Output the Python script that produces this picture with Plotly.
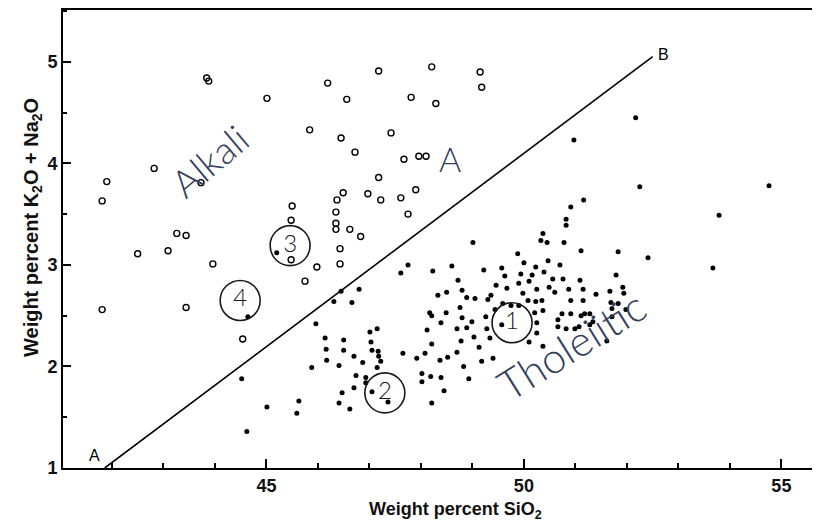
import plotly.graph_objects as go

# Alkali basalts (open circles): SiO2, K2O+Na2O
alkali_sio2 = [43.84, 43.88, 45.01, 42.82, 41.90, 41.81, 43.73, 43.26, 43.44, 43.09, 42.50,
               46.19, 47.18, 48.21, 49.15, 49.18, 46.56, 47.81, 48.29, 45.84, 46.45, 47.42,
               46.72, 47.67, 47.96, 48.10, 47.18, 46.49, 46.37, 46.97, 47.22, 47.61, 47.90,
               47.75, 45.50, 45.48, 46.35, 46.35, 46.35, 46.62, 46.83, 46.43, 45.98, 46.43,
               45.75, 45.48, 41.81, 43.44, 43.96, 44.54]
alkali_total = [4.84, 4.81, 4.64, 3.95, 3.82, 3.63, 3.81, 3.31, 3.29, 3.14, 3.11,
                4.79, 4.91, 4.95, 4.90, 4.75, 4.63, 4.65, 4.59, 4.33, 4.25, 4.30,
                4.11, 4.04, 4.07, 4.07, 3.86, 3.71, 3.64, 3.70, 3.64, 3.66, 3.74,
                3.50, 3.58, 3.44, 3.52, 3.41, 3.35, 3.35, 3.28, 3.16, 2.98, 3.01,
                2.84, 3.05, 2.56, 2.58, 3.01, 2.27]

# Tholeiitic basalts (filled dots)
thol_sio2 = [52.17, 50.97, 52.25, 54.76, 53.79, 51.16, 50.91, 50.82, 50.82, 50.37, 50.33, 50.45,
             50.78, 51.11, 51.83, 52.41, 53.67, 49.01, 49.88, 50.00, 50.47, 50.70, 50.39, 51.79,
             50.56, 50.76, 51.09, 50.49, 50.60, 50.87, 51.15, 51.40, 51.67, 51.92, 51.94, 50.35,
             50.91, 51.15, 51.69, 51.83, 51.71, 51.98, 50.37, 50.74, 50.91, 51.11, 51.18, 51.28,
             51.71, 50.66, 50.66, 50.82, 50.99, 51.07, 51.28, 51.34, 51.61, 50.37, 50.25, 50.10,
             50.25, 48.23, 48.60, 49.22, 49.57, 50.23, 49.63, 49.94, 50.16, 48.72, 49.90, 50.10,
             49.46, 49.67, 48.80, 48.50, 48.33, 50.25, 49.98, 48.89, 49.05, 49.36, 49.30, 50.08,
             50.23, 49.59, 49.75, 49.90, 48.76, 48.17, 48.21, 48.49, 49.44, 50.21, 48.80, 48.99,
             49.26, 49.57, 48.39, 48.12, 48.70, 48.89, 49.28, 48.78, 49.03, 49.34, 48.21, 49.13,
             48.70, 48.52, 48.37, 48.08, 49.18, 49.40, 48.83, 48.02, 48.02, 48.19, 48.39, 48.93,
             48.45, 48.21, 47.75, 47.61, 46.45, 46.80, 46.31, 46.66, 45.96, 47.01, 47.15, 46.14,
             46.50, 47.03, 46.16, 46.50, 47.05, 47.17, 47.18, 47.22, 46.70, 46.87, 46.17, 45.88,
             46.41, 47.15, 47.65, 47.92, 46.74, 46.93, 46.93, 46.70, 46.47, 47.05, 46.41, 46.62,
             45.63, 45.59, 47.36, 45.01, 44.52, 44.62, 44.64, 45.20]
thol_total = [4.45, 4.23, 3.77, 3.78, 3.49, 3.64, 3.57, 3.45, 3.39, 3.31, 3.24, 3.22,
              3.22, 3.14, 3.13, 3.07, 2.97, 3.22, 3.11, 3.02, 3.04, 3.00, 2.93, 2.90,
              2.86, 2.86, 2.85, 2.78, 2.73, 2.76, 2.76, 2.71, 2.74, 2.78, 2.72, 2.65,
              2.65, 2.65, 2.63, 2.62, 2.57, 2.56, 2.55, 2.52, 2.52, 2.50, 2.52, 2.52,
              2.49, 2.46, 2.39, 2.37, 2.37, 2.39, 2.41, 2.44, 2.25, 2.20, 2.33, 2.24,
              2.43, 2.94, 2.99, 2.95, 2.97, 2.98, 2.89, 2.91, 2.90, 2.85, 2.82, 2.84,
              2.80, 2.77, 2.75, 2.73, 2.70, 2.76, 2.72, 2.68, 2.67, 2.70, 2.66, 2.65,
              2.64, 2.62, 2.60, 2.60, 2.58, 2.53, 2.50, 2.53, 2.56, 2.53, 2.48, 2.44,
              2.49, 2.41, 2.43, 2.36, 2.37, 2.38, 2.37, 2.25, 2.29, 2.28, 2.22, 2.19,
              2.14, 2.09, 2.06, 2.13, 2.05, 2.08, 2.00, 1.93, 1.85, 1.90, 1.89, 1.88,
              1.76, 1.64, 3.00, 2.92, 2.74, 2.76, 2.64, 2.63, 2.42, 2.34, 2.37, 2.28,
              2.26, 2.24, 2.17, 2.16, 2.16, 2.15, 2.10, 2.05, 2.10, 2.04, 2.06, 1.99,
              2.01, 1.99, 2.13, 2.08, 1.91, 1.89, 1.84, 1.79, 1.74, 1.75, 1.64, 1.58,
              1.66, 1.54, 1.65, 1.60, 1.88, 1.36, 2.49, 3.12]

# Dividing line A-B
line_sio2 = [41.86, 52.5]
line_total = [1.0, 5.05]

x_ticks = [45, 50, 55]
y_ticks = [1, 2, 3, 4, 5]

# Handwritten field labels: text, x, y, angle, size
hand_text = ["Alkali", "A", "Tholeiitic"]
hand_x = [43.9, 48.56, 50.93]
hand_y = [4.03, 4.05, 2.21]
hand_angle = [-40, 0, -32]
hand_size = [38, 34, 42]

# Circled group numbers
group_text = ["1", "2", "3", "4"]
group_x = [49.77, 47.30, 45.46, 44.49]
group_y = [2.43, 1.74, 3.19, 2.65]

ink = "#34405e"
font_main = "Liberation Sans, Arial, sans-serif"
hand_font = "Lato, DejaVu Sans, sans-serif"

fig = go.Figure()

fig.add_trace(go.Scatter(
    x=line_sio2, y=line_total, mode="lines",
    line=dict(color="black", width=1.6), hoverinfo="skip", showlegend=False))

fig.add_trace(go.Scatter(
    x=alkali_sio2, y=alkali_total, mode="markers",
    marker=dict(symbol="circle-open", size=6, color="black", line=dict(width=1.4)),
    showlegend=False))

fig.add_trace(go.Scatter(
    x=thol_sio2, y=thol_total, mode="markers",
    marker=dict(symbol="circle", size=5, color="black"),
    showlegend=False))

fig.add_trace(go.Scatter(
    x=group_x, y=group_y, mode="markers+text", text=group_text,
    textposition="middle center",
    textfont=dict(family=hand_font, size=24, color="#1a1a1a", weight=300),
    marker=dict(symbol="circle-open", size=40, color="#1a1a1a", line=dict(width=1.6)),
    showlegend=False, hoverinfo="skip"))

annotations = []
for t, xv, yv, a, s in zip(hand_text, hand_x, hand_y, hand_angle, hand_size):
    annotations.append(dict(
        x=xv, y=yv, xref="x", yref="y", text=t, showarrow=False, textangle=a,
        font=dict(family=hand_font, size=s, color=ink, weight=300)))

# Line end labels
annotations.append(dict(x=41.86, y=1.0, xref="x", yref="y", text="A", showarrow=False,
                        xanchor="right", yanchor="bottom", xshift=-3, yshift=2,
                        font=dict(family=font_main, size=16, color="black")))
annotations.append(dict(x=52.5, y=5.05, xref="x", yref="y", text="B", showarrow=False,
                        xanchor="left", yanchor="middle", xshift=3, yshift=2,
                        font=dict(family=font_main, size=16, color="black")))

# Axis titles
annotations.append(dict(x=0, y=0.524, xref="paper", yref="paper",
                        text="<b>Weight percent K<sub>2</sub>O + Na<sub>2</sub>O</b>",
                        showarrow=False, textangle=-90, xanchor="center", yanchor="middle",
                        xshift=-31, font=dict(family=font_main, size=20, color="#111")))
annotations.append(dict(x=0.518, y=0, xref="paper", yref="paper",
                        text="<b>Weight percent SiO<sub>2</sub></b>",
                        showarrow=False, xanchor="center", yanchor="middle",
                        yshift=-42, font=dict(family=font_main, size=18, color="#111")))

tick_font = dict(family=font_main, size=18, color="#111", weight="bold")

fig.update_layout(
    width=812, height=516,
    margin=dict(l=55, r=0, t=2, b=56),
    paper_bgcolor="white", plot_bgcolor="white",
    annotations=annotations,
    xaxis=dict(range=[41.05, 55.75], tickvals=x_ticks, ticks="inside", ticklen=9,
               tickwidth=2, tickcolor="black", showgrid=False, zeroline=False,
               showline=True, linecolor="black", linewidth=2, mirror=True,
               tickfont=tick_font,
               minor=dict(dtick=1, ticks="inside", ticklen=5, tickwidth=2,
                          tickcolor="black", showgrid=False)),
    yaxis=dict(range=[1.0, 5.51], tickvals=y_ticks, ticks="inside", ticklen=8,
               tickwidth=2, tickcolor="black", showgrid=False, zeroline=False,
               showline=True, linecolor="black", linewidth=2, mirror=False,
               tickfont=tick_font,
               minor=dict(dtick=0.5, ticks="inside", ticklen=4, tickwidth=2,
                          tickcolor="black", showgrid=False)),
)

fig.write_html("out.html")
